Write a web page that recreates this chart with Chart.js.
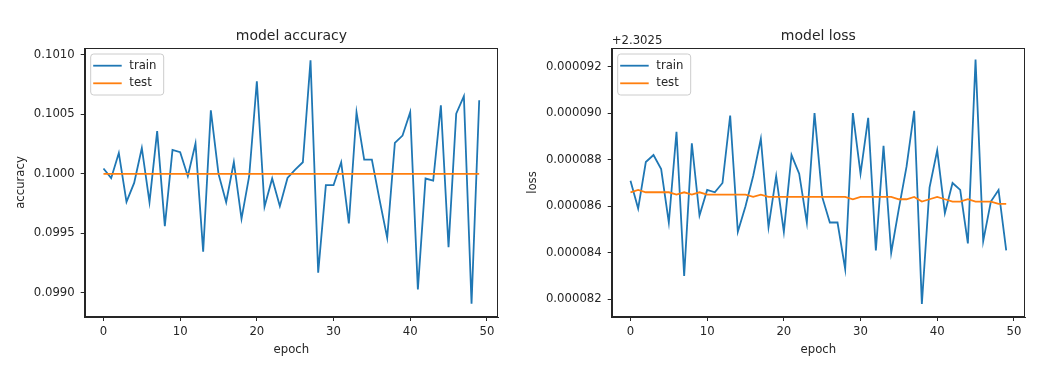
<!DOCTYPE html>
<html>
<head>
<meta charset="utf-8">
<script src="https://cdn.jsdelivr.net/npm/chart.js@4.4.1/dist/chart.umd.min.js"></script>
<style>
    html, body { margin: 0; padding: 0; background: #fff; }
    #wrap { position: relative; width: 1060px; height: 371px; }
    canvas { position: absolute; top: 0; }
    #acc-chart { left: 0; }
    #loss-chart { left: 520px; }
</style>
</head>
<body>
<div id="wrap">
    <canvas id="acc-chart" width="520" height="371"></canvas>
    <canvas id="loss-chart" width="540" height="371"></canvas>
</div>
<script>
const epochs = [0, 1, 2, 3, 4, 5, 6, 7, 8, 9, 10, 11, 12, 13, 14, 15, 16, 17, 18, 19,
    20, 21, 22, 23, 24, 25, 26, 27, 28, 29, 30, 31, 32, 33, 34, 35, 36, 37, 38, 39,
    40, 41, 42, 43, 44, 45, 46, 47, 48, 49];

const accTrain = [0.100045, 0.099964, 0.100176, 0.099765, 0.099924, 0.100218, 0.099762, 0.100359, 0.099560, 0.100202,
    0.100182, 0.099980, 0.100255, 0.099345, 0.100535, 0.100000, 0.099762, 0.100100, 0.099622, 0.099980,
    0.100779, 0.099723, 0.099961, 0.099728, 0.099966, 0.100036, 0.100098, 0.100955, 0.099168, 0.099905,
    0.099905, 0.100098, 0.099583, 0.100518, 0.100120, 0.100120, 0.099784, 0.099462, 0.100260, 0.100322,
    0.100518, 0.099028, 0.099961, 0.099944, 0.100577, 0.099384, 0.100507, 0.100653, 0.098908, 0.100619];
const accTest = [0.1, 0.1, 0.1, 0.1, 0.1, 0.1, 0.1, 0.1, 0.1, 0.1,
    0.1, 0.1, 0.1, 0.1, 0.1, 0.1, 0.1, 0.1, 0.1, 0.1,
    0.1, 0.1, 0.1, 0.1, 0.1, 0.1, 0.1, 0.1, 0.1, 0.1,
    0.1, 0.1, 0.1, 0.1, 0.1, 0.1, 0.1, 0.1, 0.1, 0.1,
    0.1, 0.1, 0.1, 0.1, 0.1, 0.1, 0.1, 0.1, 0.1, 0.1];

const lossOffset = 2.3025;
const lossTrain = [2.3025871, 2.3025859, 2.3025879, 2.3025882, 2.3025876, 2.3025853, 2.3025892, 2.3025830, 2.3025887, 2.3025856,
    2.3025867, 2.3025866, 2.3025870, 2.3025899, 2.3025849, 2.3025860, 2.3025873, 2.3025889, 2.3025851, 2.3025873,
    2.3025849, 2.3025882, 2.3025874, 2.3025853, 2.3025900, 2.3025864, 2.3025853, 2.3025853, 2.3025833, 2.3025900,
    2.3025874, 2.3025898, 2.3025841, 2.3025886, 2.3025840, 2.3025859, 2.3025877, 2.3025901, 2.3025818, 2.3025868,
    2.3025884, 2.3025857, 2.3025870, 2.3025867, 2.3025844, 2.3025923, 2.3025845, 2.3025862, 2.3025867, 2.3025841];
const lossTest = [2.3025866, 2.3025867, 2.3025866, 2.3025866, 2.3025866, 2.3025866, 2.3025865, 2.3025866, 2.3025865, 2.3025866,
    2.3025865, 2.3025865, 2.3025865, 2.3025865, 2.3025865, 2.3025865, 2.3025864, 2.3025865, 2.3025864, 2.3025864,
    2.3025864, 2.3025864, 2.3025864, 2.3025864, 2.3025864, 2.3025864, 2.3025864, 2.3025864, 2.3025864, 2.3025863,
    2.3025864, 2.3025864, 2.3025864, 2.3025864, 2.3025864, 2.3025863, 2.3025863, 2.3025864, 2.3025862, 2.3025863,
    2.3025864, 2.3025863, 2.3025862, 2.3025862, 2.3025863, 2.3025862, 2.3025862, 2.3025862, 2.3025861, 2.3025861];

const epochTicks = [0, 10, 20, 30, 40, 50];
const accTicks = [0.0990, 0.0995, 0.1000, 0.1005, 0.1010];
const lossTicks = [0.000082, 0.000084, 0.000086, 0.000088, 0.000090, 0.000092];

const FONT = 'DejaVu Sans';
const INK = '#262626';
const BLUE = '#1f77b4';
const ORANGE = '#ff7f0e';

// full box around the plot, like matplotlib spines
const frame = {
    id: 'frame',
    afterDatasetsDraw(chart) {
        const { ctx, chartArea: a } = chart;
        ctx.save();
        ctx.strokeStyle = INK;
        ctx.lineWidth = 1;
        const l = Math.round(a.left) + 0.5, t = Math.round(a.top) + 0.5;
        const r = Math.round(a.right) - 0.5, b = Math.round(a.bottom) - 0.5;
        ctx.strokeRect(l, t, r - l, b - t);
        ctx.restore();
    }
};

// legend inside the upper left corner
const insideLegend = {
    id: 'insideLegend',
    afterDraw(chart) {
        const { ctx, chartArea: a } = chart;
        const x = a.left + 6, y = a.top + 6, w = 73, h = 41, r = 3;
        ctx.save();
        ctx.beginPath();
        ctx.moveTo(x + r, y);
        ctx.arcTo(x + w, y, x + w, y + h, r);
        ctx.arcTo(x + w, y + h, x, y + h, r);
        ctx.arcTo(x, y + h, x, y, r);
        ctx.arcTo(x, y, x + w, y, r);
        ctx.closePath();
        ctx.fillStyle = 'rgba(255,255,255,0.8)';
        ctx.fill();
        ctx.strokeStyle = '#cccccc';
        ctx.lineWidth = 1;
        ctx.stroke();
        ctx.font = '11.7px "' + FONT + '"';
        ctx.textBaseline = 'middle';
        ctx.textAlign = 'left';
        chart.data.datasets.forEach(function (ds, i) {
            const ly = y + 11.7 + i * 17.6;
            ctx.beginPath();
            ctx.moveTo(x + 2.5, ly);
            ctx.lineTo(x + 31, ly);
            ctx.strokeStyle = ds.borderColor;
            ctx.lineWidth = 1.8;
            ctx.stroke();
            ctx.fillStyle = INK;
            ctx.fillText(ds.label, x + 38.6, ly);
        });
        ctx.restore();
    }
};

// "+2.3025" offset text above the loss axis
const offsetText = {
    id: 'offsetText',
    afterDraw(chart) {
        const { ctx, chartArea: a } = chart;
        ctx.save();
        ctx.font = '11.7px "' + FONT + '"';
        ctx.fillStyle = INK;
        ctx.textAlign = 'left';
        ctx.textBaseline = 'middle';
        ctx.fillText('+' + lossOffset, a.left, 40.7);
        ctx.restore();
    }
};

function points(ys, shift) {
    return epochs.map(function (e, i) { return { x: e, y: ys[i] - shift }; });
}

function makeChart(canvasId, cfg) {
    const tickFont = { family: FONT, size: 11.7 };
    return new Chart(document.getElementById(canvasId), {
        type: 'line',
        data: {
            datasets: [
                { label: 'train', data: points(cfg.train, cfg.shift), borderColor: BLUE, borderWidth: 1.8, pointRadius: 0, tension: 0, order: 2 },
                { label: 'test', data: points(cfg.test, cfg.shift), borderColor: ORANGE, borderWidth: 1.8, pointRadius: 0, tension: 0, order: 1 }
            ]
        },
        options: {
            responsive: false,
            animation: false,
            layout: { padding: { left: 0, right: cfg.padRight, top: 0, bottom: 0 } },
            plugins: {
                legend: { display: false },
                tooltip: { enabled: false },
                title: {
                    display: true,
                    text: cfg.title,
                    fullSize: false,
                    color: INK,
                    font: { family: FONT, size: 14, weight: 'normal' },
                    padding: { top: 28, bottom: 3.2 }
                }
            },
            scales: {
                x: {
                    type: 'linear',
                    min: -2.45,
                    max: 51.45,
                    afterBuildTicks: function (scale) { scale.ticks = epochTicks.map(function (v) { return { value: v }; }); },
                    afterFit: function (scale) { scale.height = 54; },
                    ticks: { color: INK, font: tickFont, padding: 4, maxRotation: 0 },
                    grid: { drawOnChartArea: false, drawTicks: true, tickLength: 4, color: INK },
                    border: { display: true, color: INK },
                    title: { display: true, text: 'epoch', color: INK, font: tickFont, padding: { top: 0, bottom: 14 } }
                },
                y: {
                    type: 'linear',
                    min: cfg.yMin,
                    max: cfg.yMax,
                    afterBuildTicks: function (scale) { scale.ticks = cfg.yTicks.map(function (v) { return { value: v }; }); },
                    afterFit: function (scale) { scale.width = cfg.axisWidth; },
                    ticks: {
                        color: INK,
                        font: tickFont,
                        padding: 6,
                        callback: function (v) { return v.toFixed(cfg.digits); }
                    },
                    grid: { drawOnChartArea: false, drawTicks: true, tickLength: 4, color: INK },
                    border: { display: true, color: INK },
                    title: { display: true, text: cfg.yLabel, color: INK, font: tickFont, padding: { top: cfg.yTitlePad, bottom: 0 } }
                }
            }
        },
        plugins: cfg.plugins
    });
}

makeChart('acc-chart', {
    title: 'model accuracy',
    yLabel: 'accuracy',
    train: accTrain,
    test: accTest,
    shift: 0,
    yMin: 0.098796,
    yMax: 0.1010588,
    yTicks: accTicks,
    digits: 4,
    axisWidth: 84.7,
    yTitlePad: 14,
    padRight: 22,
    plugins: [frame, insideLegend]
});

makeChart('loss-chart', {
    title: 'model loss',
    yLabel: 'loss',
    train: lossTrain,
    test: lossTest,
    shift: lossOffset,
    yMin: 0.00008124,
    yMax: 0.0000928,
    yTicks: lossTicks,
    digits: 6,
    axisWidth: 91.7,
    yTitlePad: 6.3,
    padRight: 35,
    plugins: [frame, insideLegend, offsetText]
});
</script>
</body>
</html>
